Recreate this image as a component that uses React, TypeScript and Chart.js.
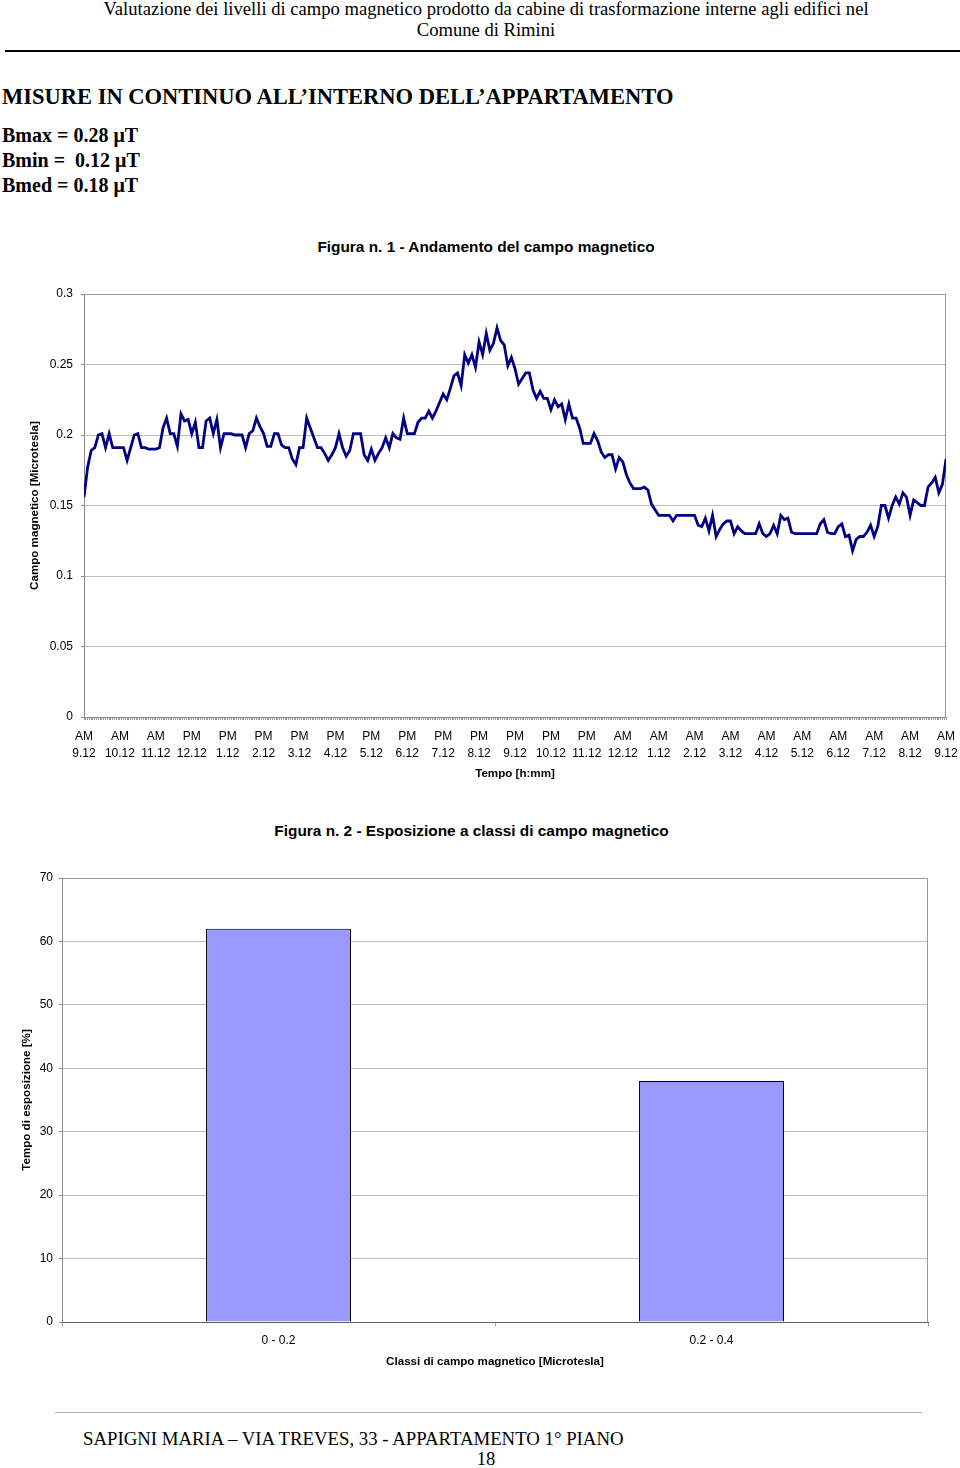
import React, { useEffect, useRef } from "react";
import { Chart, registerables } from "chart.js";

Chart.register(...registerables);

// ---------- Data ----------
// Continuous magnetic field measurements [µT], one sample per step on the time axis
const fieldValues: number[] = [
  0.156, 0.177, 0.189, 0.191, 0.200, 0.201, 0.191, 0.201, 0.191, 0.191,
  0.191, 0.191, 0.182, 0.191, 0.200, 0.201, 0.191, 0.191, 0.190, 0.190,
  0.190, 0.191, 0.205, 0.212, 0.201, 0.201, 0.192, 0.215, 0.210, 0.211,
  0.201, 0.209, 0.191, 0.191, 0.210, 0.212, 0.201, 0.211, 0.191, 0.201,
  0.201, 0.201, 0.200, 0.200, 0.200, 0.191, 0.201, 0.203, 0.212, 0.206,
  0.201, 0.192, 0.192, 0.201, 0.201, 0.193, 0.191, 0.191, 0.183, 0.179,
  0.191, 0.191, 0.212, 0.205, 0.198, 0.191, 0.191, 0.187, 0.182, 0.186,
  0.191, 0.201, 0.191, 0.185, 0.189, 0.201, 0.201, 0.201, 0.186, 0.182,
  0.190, 0.182, 0.187, 0.191, 0.198, 0.191, 0.201, 0.198, 0.197, 0.212,
  0.201, 0.201, 0.201, 0.209, 0.212, 0.212, 0.217, 0.212, 0.217, 0.223,
  0.229, 0.225, 0.233, 0.242, 0.244, 0.235, 0.257, 0.251, 0.257, 0.248,
  0.266, 0.257, 0.272, 0.260, 0.265, 0.276, 0.267, 0.264, 0.249, 0.255,
  0.247, 0.236, 0.240, 0.244, 0.244, 0.232, 0.226, 0.231, 0.226, 0.226,
  0.218, 0.225, 0.220, 0.222, 0.211, 0.222, 0.212, 0.212, 0.205, 0.194,
  0.194, 0.194, 0.201, 0.196, 0.188, 0.184, 0.186, 0.186, 0.176, 0.184,
  0.181, 0.172, 0.166, 0.162, 0.162, 0.162, 0.163, 0.161, 0.151, 0.147,
  0.143, 0.143, 0.143, 0.143, 0.139, 0.143, 0.143, 0.143, 0.143, 0.143,
  0.143, 0.136, 0.135, 0.141, 0.132, 0.143, 0.128, 0.133, 0.137, 0.139,
  0.139, 0.130, 0.135, 0.132, 0.130, 0.130, 0.130, 0.130, 0.137, 0.130,
  0.128, 0.130, 0.136, 0.130, 0.143, 0.140, 0.141, 0.131, 0.130, 0.130,
  0.130, 0.130, 0.130, 0.130, 0.130, 0.137, 0.140, 0.131, 0.130, 0.130,
  0.135, 0.137, 0.128, 0.129, 0.118, 0.126, 0.128, 0.128, 0.131, 0.136,
  0.128, 0.135, 0.150, 0.150, 0.141, 0.150, 0.156, 0.151, 0.159, 0.156,
  0.143, 0.154, 0.152, 0.150, 0.150, 0.163, 0.166, 0.170, 0.159, 0.165,
  0.183,
];

// Hour labels shown every 10 samples
const timeLabels: string[][] = [
  ["AM", "9.12"], ["AM", "10.12"], ["AM", "11.12"], ["PM", "12.12"],
  ["PM", "1.12"], ["PM", "2.12"], ["PM", "3.12"], ["PM", "4.12"],
  ["PM", "5.12"], ["PM", "6.12"], ["PM", "7.12"], ["PM", "8.12"],
  ["PM", "9.12"], ["PM", "10.12"], ["PM", "11.12"], ["AM", "12.12"],
  ["AM", "1.12"], ["AM", "2.12"], ["AM", "3.12"], ["AM", "4.12"],
  ["AM", "5.12"], ["AM", "6.12"], ["AM", "7.12"], ["AM", "8.12"],
  ["AM", "9.12"],
];
const samplesPerLabel = 10;

const fieldAxisMin = 0;
const fieldAxisMax = 0.3;
const fieldAxisStep = 0.05;

// Exposure by field class
const classLabels: string[] = ["0 - 0.2", "0.2 - 0.4"];
const exposurePercent: number[] = [62, 38];
const exposureAxisMax = 70;
const exposureAxisStep = 10;

// ---------- Styling ----------
const SANS = "Arial, 'Liberation Sans', Helvetica, sans-serif";
const SERIF = "'Times New Roman', 'Liberation Serif', Times, serif";
const AXIS_TITLE_SIZE = 11.6;

const plotBorder = {
  id: "plotBorder",
  beforeDatasetsDraw(chart: any, _args: any, opts: any) {
    const { ctx, chartArea: a } = chart;
    ctx.save();
    ctx.strokeStyle = opts.color || "#999";
    ctx.lineWidth = 1;
    ctx.beginPath();
    ctx.moveTo(Math.round(a.left) + 0.5, Math.round(a.top) + 0.5);
    ctx.lineTo(Math.round(a.right) - 0.5, Math.round(a.top) + 0.5);
    ctx.lineTo(Math.round(a.right) - 0.5, Math.round(a.bottom) + 0.5);
    ctx.stroke();
    ctx.restore();
  },
};

function Text(props: {
  x: number;
  y: number;
  w?: number;
  size: number;
  bold?: boolean;
  family: string;
  align?: "left" | "center";
  children: React.ReactNode;
}) {
  const lh = Math.round(props.size * 1.2);
  const style: React.CSSProperties = {
    position: "absolute",
    top: props.y - lh / 2,
    left: props.x,
    width: props.w,
    fontSize: props.size,
    lineHeight: lh + "px",
    fontFamily: props.family,
    fontWeight: props.bold ? "bold" : "normal",
    textAlign: props.align || "left",
    whiteSpace: "pre",
    color: "#000",
  };
  return <div style={style}>{props.children}</div>;
}

export default function App() {
  const lineRef = useRef<HTMLCanvasElement>(null);
  const barRef = useRef<HTMLCanvasElement>(null);

  useEffect(() => {
    Chart.defaults.font.family = SANS;
    Chart.defaults.color = "#000";

    const lineChart = new Chart(lineRef.current as HTMLCanvasElement, {
      type: "line",
      data: {
        datasets: [
          {
            label: "Campo magnetico",
            data: fieldValues.map((v, i) => ({ x: i, y: v })),
            borderColor: "#000080",
            borderWidth: 2.8,
            pointRadius: 0,
            tension: 0,
            fill: false,
          },
        ],
      },
      options: {
        responsive: false,
        animation: false,
        events: [],
        layout: { padding: { top: 69, left: 0, right: 14, bottom: 0 } },
        plugins: {
          legend: { display: false },
          tooltip: { enabled: false },
          plotBorder: { color: "#9a9a9a" },
        } as any,
        scales: {
          x: {
            type: "linear",
            min: 0,
            max: fieldValues.length - 1,
            afterFit: (s: any) => {
              s.height = 78;
              s.paddingLeft = 0;
              s.paddingRight = 0;
            },
            ticks: {
              stepSize: 0.5,
              maxTicksLimit: 1000,
              autoSkip: false,
              maxRotation: 0,
              minRotation: 0,
              padding: 8,
              font: { size: 12, lineHeight: 1.42 },
              color: "#000",
              callback: (value: any) => {
                const v = Number(value);
                const k = Math.round(v / samplesPerLabel);
                if (Math.abs(v - k * samplesPerLabel) < 1e-6 && timeLabels[k]) {
                  return timeLabels[k];
                }
                return "";
              },
            },
            grid: {
              drawOnChartArea: false,
              drawTicks: true,
              tickLength: 3,
              color: "#9a9a9a",
              tickColor: "#9a9a9a",
            },
            border: { display: true, color: "#8a8a8a", width: 1 },
            title: {
              display: true,
              text: "Tempo [h:mm]",
              font: { size: AXIS_TITLE_SIZE, weight: "bold" },
              padding: { top: 0, bottom: 14 },
              color: "#000",
            },
          },
          y: {
            min: fieldAxisMin,
            max: fieldAxisMax,
            afterFit: (s: any) => {
              s.width = 84;
            },
            ticks: {
              stepSize: fieldAxisStep,
              padding: 8,
              font: { size: 12 },
              color: "#000",
              callback: (value: any) => String(Number(Number(value).toFixed(2))),
            },
            grid: {
              color: "#bdbdbd",
              tickLength: 3,
              tickColor: "#8a8a8a",
            },
            border: { display: true, color: "#8a8a8a", width: 1 },
            title: {
              display: true,
              text: "Campo magnetico [Microtesla]",
              font: { size: AXIS_TITLE_SIZE, weight: "bold" },
              padding: { top: 28, bottom: 0 },
              color: "#000",
            },
          },
        },
      },
      plugins: [plotBorder],
    } as any);

    const barChart = new Chart(barRef.current as HTMLCanvasElement, {
      type: "bar",
      data: {
        labels: classLabels,
        datasets: [
          {
            label: "Tempo di esposizione",
            data: exposurePercent,
            backgroundColor: "#9999ff",
            borderColor: "#000000",
            borderWidth: 1,
            barPercentage: 0.335,
            categoryPercentage: 1,
          },
        ],
      },
      options: {
        responsive: false,
        animation: false,
        events: [],
        layout: { padding: { top: 78, left: 0, right: 32, bottom: 0 } },
        plugins: {
          legend: { display: false },
          tooltip: { enabled: false },
          plotBorder: { color: "#9a9a9a" },
        } as any,
        scales: {
          x: {
            afterFit: (s: any) => {
              s.height = 58;
            },
            ticks: {
              padding: 7,
              font: { size: 12 },
              color: "#000",
              maxRotation: 0,
            },
            grid: {
              offset: true,
              drawOnChartArea: false,
              drawTicks: true,
              tickLength: 4,
              color: "#9a9a9a",
              tickColor: "#9a9a9a",
            },
            border: { display: true, color: "#606060", width: 1 },
            title: {
              display: true,
              text: "Classi di campo magnetico [Microtesla]",
              font: { size: AXIS_TITLE_SIZE, weight: "bold" },
              padding: { top: 0, bottom: 11 },
              color: "#000",
            },
          },
          y: {
            min: 0,
            max: exposureAxisMax,
            afterFit: (s: any) => {
              s.width = 62;
            },
            ticks: {
              stepSize: exposureAxisStep,
              padding: 6,
              font: { size: 12 },
              color: "#000",
            },
            grid: {
              color: "#bdbdbd",
              tickLength: 3,
              tickColor: "#8a8a8a",
            },
            border: { display: true, color: "#8a8a8a", width: 1 },
            title: {
              display: true,
              text: "Tempo di esposizione [%]",
              font: { size: AXIS_TITLE_SIZE, weight: "bold" },
              padding: { top: 20, bottom: 0 },
              color: "#000",
            },
          },
        },
      },
      plugins: [plotBorder],
    } as any);

    return () => {
      lineChart.destroy();
      barChart.destroy();
    };
  }, []);

  return (
    <div
      style={{
        position: "absolute",
        left: 0,
        top: 0,
        width: 960,
        height: 1468,
        background: "#fff",
        overflow: "hidden",
      }}
    >
      <Text x={0} w={972} y={9} size={18.6} family={SERIF} align="center">
        Valutazione dei livelli di campo magnetico prodotto da cabine di trasformazione interne agli edifici nel
      </Text>
      <Text x={0} w={972} y={30} size={18.6} family={SERIF} align="center">
        Comune di Rimini
      </Text>
      <div style={{ position: "absolute", left: 5, top: 50, width: 955, height: 2, background: "#000" }} />

      <Text x={2} y={96} size={22.5} bold family={SERIF}>
        MISURE IN CONTINUO ALL’INTERNO DELL’APPARTAMENTO
      </Text>
      <Text x={2} y={135} size={20} bold family={SERIF}>
        Bmax = 0.28 μT
      </Text>
      <Text x={2} y={160} size={20} bold family={SERIF}>
        {"Bmin =  0.12 μT"}
      </Text>
      <Text x={2} y={185} size={20} bold family={SERIF}>
        Bmed = 0.18 μT
      </Text>

      <Text x={0} w={972} y={247} size={15.4} bold family={SANS} align="center">
        Figura n. 1 - Andamento del campo magnetico
      </Text>
      <canvas
        ref={lineRef}
        width={960}
        height={570}
        style={{ position: "absolute", left: 0, top: 225, width: 960, height: 570 }}
      />

      <Text x={0} w={943} y={831} size={15.4} bold family={SANS} align="center">
        Figura n. 2 - Esposizione a classi di campo magnetico
      </Text>
      <canvas
        ref={barRef}
        width={960}
        height={580}
        style={{ position: "absolute", left: 0, top: 800, width: 960, height: 580 }}
      />

      <div style={{ position: "absolute", left: 55, top: 1412, width: 867, height: 1, background: "#b0b0b0" }} />
      <Text x={83} y={1438} size={18.8} family={SERIF}>
        SAPIGNI MARIA – VIA TREVES, 33 - APPARTAMENTO 1° PIANO
      </Text>
      <Text x={0} w={972} y={1459} size={18.6} family={SERIF} align="center">
        18
      </Text>
    </div>
  );
}
